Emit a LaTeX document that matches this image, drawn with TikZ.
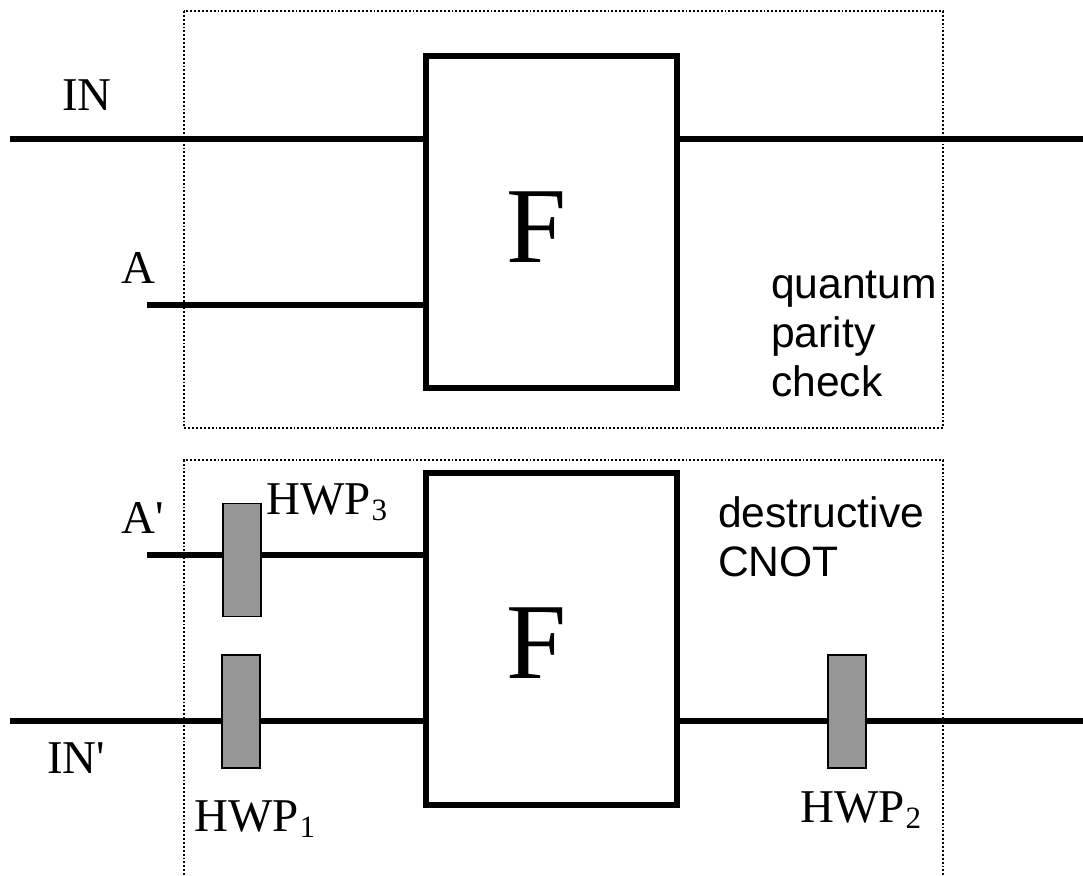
\documentclass[tikz,border=0pt]{standalone}
\usepackage{fontspec}
\newfontfamily\plainserif{Liberation Serif}
\newfontfamily\arialfont{Liberation Sans}
\newcommand{\subnum}[1]{\raisebox{-6pt}{\fontsize{31}{31}\selectfont\kern1pt #1}}
\tikzset{
  wire/.style={line width=6pt},
  fbox/.style={draw,line width=6pt,fill=white,rectangle,inner sep=0pt,outer sep=0pt,minimum width=251pt,minimum height=332pt},
  plate/.style={draw,line width=1.8pt,fill=black!41,rectangle,inner sep=0pt,outer sep=0pt,minimum width=38pt,minimum height=113pt},
  frameline/.style={line width=1.7pt,dash pattern=on 1.9pt off 2pt},
  serif/.style={anchor=base west,inner sep=0pt,font=\plainserif\fontsize{47}{47}\selectfont},
  bigf/.style={anchor=base west,inner sep=0pt,font=\plainserif\fontsize{108}{108}\selectfont},
  sans/.style={anchor=base west,inner sep=0pt,font=\arialfont\fontsize{42.6}{42.6}\selectfont},
}
\begin{document}
\begin{tikzpicture}[x=1pt,y=-1pt]
\useasboundingbox (0,0) rectangle (1083,875);
% dotted frames
\coordinate (t1) at (184,11);
\coordinate (t2) at (943,428);
\draw[frameline] (t1) rectangle (t2);
\coordinate (b1) at (184,875);
\coordinate (b2) at (184,460);
\coordinate (b3) at (943,460);
\coordinate (b4) at (943,875);
\draw[frameline] (b1) -- (b2) -- (b3) -- (b4);
% free wire ends
\coordinate (inL) at (10,139);
\coordinate (inR) at (1083,139);
\coordinate (aL) at (147,305);
\coordinate (apL) at (147,555);
\coordinate (ipL) at (10,721);
\coordinate (ipR) at (1083,721);
% boxes
\node[fbox] (F1) at (551.5,222) {};
\node[fbox] (F2) at (551.5,638.5) {};
% wires
\draw[wire] (inL) -- (inL -| F1.west);
\draw[wire] (inR) -- (inR -| F1.east);
\draw[wire] (aL) -- (aL -| F1.west);
\draw[wire] (apL) -- (apL -| F2.west);
\draw[wire] (ipL) -- (ipL -| F2.west);
\draw[wire] (ipR) -- (ipR -| F2.east);
% plates
\node[plate] (H3) at (242,560) {};
\node[plate] (H1) at (241,711.5) {};
\node[plate] (H2) at (847,711.5) {};
% labels
\node[serif] (lIN) at (62,110) {IN};
\node[serif] (lA) at (121,283) {A};
\node[serif] (lAp) at (121,533) {A'};
\node[serif] (lIp) at (47,773) {IN'};
\node[serif] (l3) at (266,514) {HWP\subnum{3}};
\node[serif] (l1) at (194,831) {HWP\subnum{1}};
\node[serif] (l2) at (800,822) {HWP\subnum{2}};
\node[bigf] (f1) at (506,262) {F};
\node[bigf] (f2) at (506,678) {F};
\node[sans] (q1) at (771,298) {quantum};
\node[sans] (q2) at (771,347) {parity};
\node[sans] (q3) at (771,396) {check};
\node[sans] (d1) at (718,527) {destructive};
\node[sans] (d2) at (718,576) {CNOT};
\end{tikzpicture}
\end{document}
